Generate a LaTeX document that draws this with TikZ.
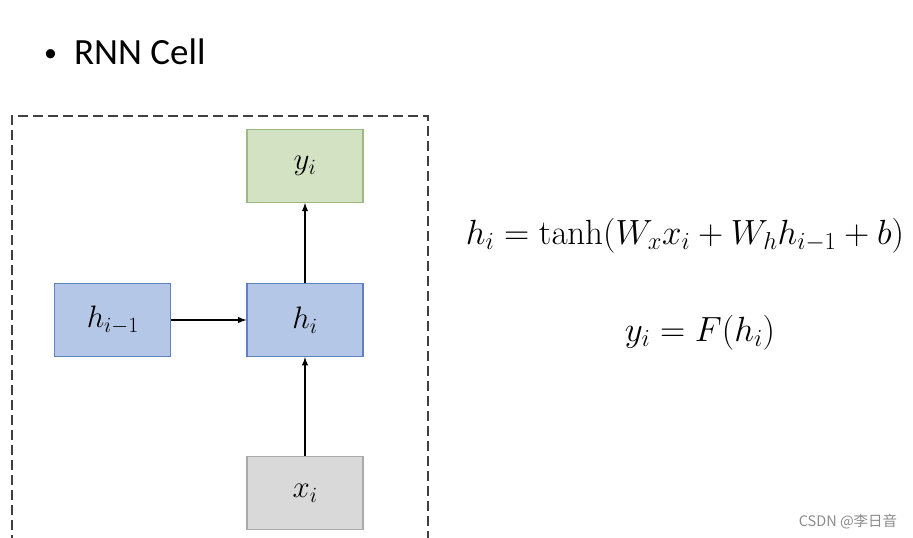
\RequirePackage{fix-cm}
\documentclass[tikz,border=0pt]{standalone}
\usepackage[no-math]{fontspec}
\setmainfont{Carlito}
\newfontfamily\cjk{Noto Sans CJK SC}
\usetikzlibrary{positioning}

\definecolor{hblue}{HTML}{B4C7E7}
\definecolor{hblueline}{HTML}{5F80C4}
\definecolor{ygreen}{HTML}{D3E2C3}
\definecolor{ygreenline}{HTML}{9DB981}
\definecolor{xgray}{HTML}{D9D9D9}
\definecolor{xgrayline}{HTML}{AAAAAA}

\begin{document}
\begin{tikzpicture}[
        x=1pt, y=-1pt,
        >=latex,
        every node/.style={inner sep=0pt},
        cell/.style={rectangle, draw, line width=1.2pt, minimum width=116pt, minimum height=73pt,
            font=\fontsize{31}{36}\selectfont},
        hcell/.style={cell, fill=hblue, draw=hblueline},
        ycell/.style={cell, fill=ygreen, draw=ygreenline},
        xcell/.style={cell, fill=xgray, draw=xgrayline},
        link/.style={->, line width=1.8pt},
        eqn/.style={anchor=base, font=\fontsize{35}{42}\selectfont}
    ]
    \useasboundingbox (0,0) rectangle (913,538);

    % Title
    \node (title) [anchor=base west, font=\fontsize{37}{44}\selectfont] at (44,64)
        {{\fontsize{26}{30}\selectfont\raisebox{3pt}{\textbullet}}\hspace{17pt}RNN Cell};

    % Cell frame
    \draw[dashed, dash pattern=on 10pt off 5pt, line width=1.5pt, color=black!75]
        (12,545) -- (12,116) -- (428,116) -- (428,545);

    % Nodes
    \node (H) [hcell] at (305,320) {$h_i$};
    \node (Y) [ycell, above=80pt of H] {$y_i$};
    \node (Hprev) [hcell, left=75pt of H] {$h_{i-1}$};
    \node (X) [xcell, below=99pt of H] {$x_i$};

    % Connections
    \draw[link] (Hprev) -- (H);
    \draw[link] (H) -- (Y);
    \draw[link] (X) -- (H);

    % Equations
    \node (eqh) [eqn] at (685,244) {$h_i = \tanh(W_x x_i + W_h h_{i-1} + b)$};
    \node (eqy) [eqn] at (700,341) {$y_i = F(h_i)$};

    % Watermark
    \node (mark) [font=\cjk\fontsize{14.5}{16}\selectfont, text=black!45] at (848,522) {CSDN @李日音};

\end{tikzpicture}
\end{document}
